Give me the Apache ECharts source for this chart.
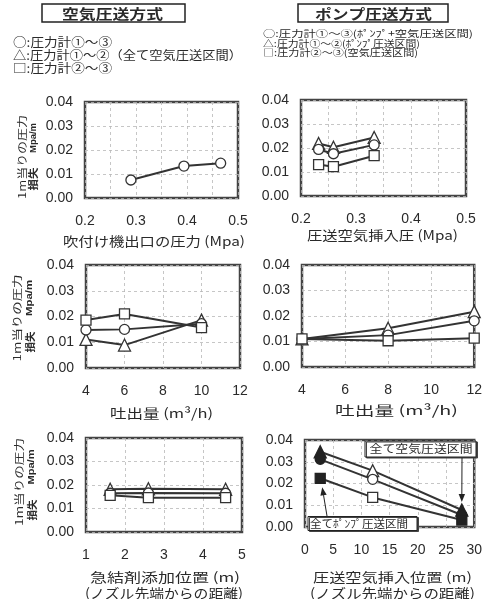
<!DOCTYPE html>
<html><head><meta charset="utf-8">
<script src="https://cdn.jsdelivr.net/npm/echarts@6/dist/echarts.min.js"></script>
<style>html,body{margin:0;padding:0;background:#fff}#c{width:485px;height:599px}</style>
</head><body><div id="c"></div>
<script>
// ---- data ----
const P1_x = [0.29, 0.394, 0.466];
const P1_circle = [0.0075, 0.0133, 0.0145];
const P2_x = [0.232, 0.259, 0.333];
const P2_tri = [0.0219, 0.0203, 0.0244];
const P2_cir = [0.0194, 0.0176, 0.0213];
const P2_sq = [0.0131, 0.0122, 0.0168];
const P3_x = [4, 6, 10];
const P3_tri = [0.0111, 0.0089, 0.0186];
const P3_cir = [0.0148, 0.0150, 0.0172];
const P3_sq = [0.0186, 0.0210, 0.0157];
const P4_x = [4, 8, 12];
const P4_tri = [0.0110, 0.0152, 0.0217];
const P4_cir = [0.0110, 0.0125, 0.0181];
const P4_sq = [0.0110, 0.0103, 0.0113];
const P5_x = [1.62, 2.6, 4.58];
const P5_tri = [0.0182, 0.0184, 0.0182];
const P5_cir = [0.0165, 0.0166, 0.0165];
const P5_sq = [0.0156, 0.0146, 0.0146];
const P6_x = [2.7, 12, 27.8];
const P6_tri = [0.0346, 0.0259, 0.0078];
const P6_cir = [0.0311, 0.0219, 0.0055];
const P6_sq = [0.0224, 0.0136, 0.0032];
const P6_filled = [true, false, true];

const yTicks = ['0.00', '0.01', '0.02', '0.03', '0.04'];
const xAxes = [
  {min: 0.2, max: 0.5, interval: 0.1, dec: 1, minor: true},
  {min: 0.2, max: 0.5, interval: 0.1, dec: 1, minor: true},
  {min: 4, max: 12, interval: 2, dec: 0},
  {min: 4, max: 12, interval: 2, dec: 0},
  {min: 1, max: 5, interval: 1, dec: 0},
  {min: 0, max: 30, interval: 5, dec: 0}
];
const xNames = [
  ['吹付け機出口の圧力 (Mpa)'],
  ['圧送空気挿入圧 (Mpa)'],
  ['吐出量 (m³/h)'],
  ['吐出量 (m³/h)'],
  ['急結剤添加位置 (m)', '(ノズル先端からの距離)'],
  ['圧送空気挿入位置 (m)', '(ノズル先端からの距離)']
];
const titles = ['空気圧送方式', 'ポンプ圧送方式'];
const legendL = ['○:圧力計①～③', '△:圧力計①～②（全て空気圧送区間）', '□:圧力計②～③'];
const legendR = ['○:圧力計①～③(ﾎﾟﾝﾌﾟ+空気圧送区間)', '△:圧力計①～②(ﾎﾟﾝﾌﾟ圧送区間)', '□:圧力計②～③(空気圧送区間)'];
const yName = ['1m当りの圧力', '損失', 'Mpa/m'];
const notes = ['全て空気圧送区間', '全てﾎﾟﾝﾌﾟ圧送区間'];

// ---- layout ----
const grids = [
  {left: 85, top: 102, width: 153, height: 96},
  {left: 301, top: 100, width: 165, height: 96},
  {left: 86, top: 265, width: 154, height: 103},
  {left: 302, top: 265, width: 174, height: 102},
  {left: 86, top: 438, width: 156, height: 94},
  {left: 305, top: 440, width: 171, height: 87}
];
const CJK = "'Noto Sans CJK JP', sans-serif";
const NUM = "'Liberation Sans', Arial, sans-serif";
const INK = '#2a2a2a';
const grid = grids.map(g => Object.assign({show: true, borderColor: '#444', borderWidth: 2.5, backgroundColor: '#fff'}, g));
const split = {show: true, lineStyle: {color: '#b8b8b8', type: [3, 3], width: 0.8}};

const xAxis = xAxes.map((a, i) => ({
  type: 'value', gridIndex: i, min: a.min, max: a.max, interval: a.interval,
  axisLine: {show: false}, axisTick: {show: false},
  axisLabel: {margin: 16, fontSize: 14, color: INK, fontFamily: NUM, formatter: v => v.toFixed(a.dec)},
  splitLine: split,
  minorTick: {show: false, splitNumber: 2},
  minorSplitLine: a.minor ? split : {show: false}
}));
const yAxis = grids.map((g, i) => ({
  type: 'value', gridIndex: i, min: 0, max: 0.04, interval: 0.01,
  axisLine: {show: false}, axisTick: {show: false},
  axisLabel: {margin: 12, fontSize: 14, color: INK, fontFamily: NUM, formatter: v => yTicks[Math.round(v * 100)]},
  splitLine: split
}));

const SYM = {
  tri: {symbol: 'triangle', symbolSize: [12, 12]},
  cir: {symbol: 'circle', symbolSize: 10},
  sq: {symbol: 'rect', symbolSize: 10}
};
function ser(i, kind, xs, ys, filled) {
  return Object.assign({
    type: 'line', xAxisIndex: i, yAxisIndex: i, silent: true, animation: false,
    data: xs.map((x, k) => {
      const d = {value: [x, ys[k]]};
      if (filled && filled[k]) d.itemStyle = {color: '#222', borderColor: '#222'};
      return d;
    }),
    showAllSymbol: true,
    lineStyle: {color: '#333', width: 2},
    itemStyle: {color: '#fff', borderColor: '#333', borderWidth: 1.3}
  }, SYM[kind]);
}
const series = [
  ser(0, 'cir', P1_x, P1_circle),
  ser(1, 'tri', P2_x, P2_tri), ser(1, 'cir', P2_x, P2_cir), ser(1, 'sq', P2_x, P2_sq),
  ser(2, 'tri', P3_x, P3_tri), ser(2, 'cir', P3_x, P3_cir), ser(2, 'sq', P3_x, P3_sq),
  ser(3, 'tri', P4_x, P4_tri), ser(3, 'cir', P4_x, P4_cir), ser(3, 'sq', P4_x, P4_sq),
  ser(4, 'tri', P5_x, P5_tri), ser(4, 'cir', P5_x, P5_cir), ser(4, 'sq', P5_x, P5_sq),
  ser(5, 'tri', P6_x, P6_tri, P6_filled), ser(5, 'cir', P6_x, P6_cir, P6_filled), ser(5, 'sq', P6_x, P6_sq, P6_filled)
];

const chart = echarts.init(document.getElementById('c'), null, {renderer: 'canvas'});
chart.setOption({backgroundColor: '#fff', animation: false, grid, xAxis, yAxis, series});

// ---- text helpers ----
const mctx = document.createElement('canvas').getContext('2d');
function T(t, x, y, w, fs, o) {
  o = o || {};
  const fam = o.family || CJK, wt = o.weight || 'normal';
  mctx.font = wt + ' ' + fs + 'px ' + fam;
  const mw = mctx.measureText(t).width;
  return {
    type: 'text', x, y, z: 100, rotation: o.rot || 0, scaleX: w ? w / mw : 1, silent: true,
    style: {text: t, fontSize: fs, fontFamily: fam, fontWeight: wt, fill: o.fill || INK,
      align: o.align || 'center', verticalAlign: 'middle'}
  };
}
function box(x, y, w, h, lw, sh) {
  return {type: 'rect', z: 90, silent: true, shape: {x, y, width: w, height: h},
    style: {fill: '#fff', stroke: '#222', lineWidth: lw,
      shadowColor: sh ? '#444' : 'transparent', shadowOffsetX: sh ? 1.5 : 0, shadowOffsetY: sh ? 1 : 0, shadowBlur: 0}};
}
function arrow(x1, y1, x2, y2) {
  const a = Math.atan2(y2 - y1, x2 - x1), L = 8, W = 3.2;
  const bx = x2 - L * Math.cos(a), by = y2 - L * Math.sin(a);
  const nx = -Math.sin(a) * W, ny = Math.cos(a) * W;
  return [
    {type: 'line', z: 95, silent: true, shape: {x1, y1, x2: bx, y2: by}, style: {stroke: '#222', lineWidth: 1}},
    {type: 'polygon', z: 95, silent: true, shape: {points: [[x2, y2], [bx + nx, by + ny], [bx - nx, by - ny]]}, style: {fill: '#222'}}
  ];
}

const G = [];
// titles
G.push(box(42, 4, 143, 18, 1.5));
G.push(T(titles[0], 112.5, 13.5, 101, 14, {weight: 'bold'}));
G.push(box(298, 4, 150, 18, 1.5));
G.push(T(titles[1], 373.5, 13.5, 117, 14, {weight: 'bold'}));
// legends
G.push(T(legendL[0], 13, 42, 99, 12, {align: 'left'}));
G.push(T(legendL[1], 13, 55, 229, 12, {align: 'left'}));
G.push(T(legendL[2], 13, 68.5, 99, 12, {align: 'left'}));
G.push(T(legendR[0], 263, 33.5, 210, 9.5, {align: 'left'}));
G.push(T(legendR[1], 263, 43, 157, 9.5, {align: 'left'}));
G.push(T(legendR[2], 263, 52.5, 155, 9.5, {align: 'left'}));
// y-axis names on the left column
const R = Math.PI / 2;
[[22, 157, 84, 34, 138, 30, 33, 179, 23],
 [17, 318, 87, 30, 298, 36, 30, 342, 21],
 [19, 482, 88, 32, 467, 35, 32, 510, 21]].forEach(p => {
  G.push(T(yName[0], p[0], p[1], p[2], 10, {rot: R}));
  G.push(T(yName[2], p[3], p[4], p[5], 9, {rot: R, family: NUM, weight: 'bold'}));
  G.push(T(yName[1], p[6], p[7], p[8], 10, {rot: R, weight: 'bold'}));
});
// x-axis names
const xn = [
  [[154, 241, 182]], [[382.5, 235, 151]], [[161.5, 413, 103]], [[396.5, 410, 123]],
  [[165, 577.5, 150], [164, 593.5, 158]], [[392.5, 577.5, 159], [392.5, 593.5, 165]]
];
xn.forEach((lines, i) => lines.forEach((l, k) => G.push(T(xNames[i][k], l[0], l[1], l[2], 13))));
// annotations in panel 6
G.push(box(365, 441, 111, 16, 1, true));
G.push(T(notes[0], 421, 449, 103, 11));
G.push(box(308, 516.5, 109, 14, 1, true));
G.push(T(notes[1], 359, 523.5, 98, 11));
const pLast = chart.convertToPixel({gridIndex: 5}, [P6_x[2], P6_tri[2]]);
const pFirst = chart.convertToPixel({gridIndex: 5}, [P6_x[0], P6_sq[0]]);
arrow(462, 458, pLast[0], pLast[1] - 8).forEach(e => G.push(e));
arrow(327, 516, pFirst[0] + 2, pFirst[1] + 9).forEach(e => G.push(e));

chart.setOption({graphic: G});
</script></body></html>
